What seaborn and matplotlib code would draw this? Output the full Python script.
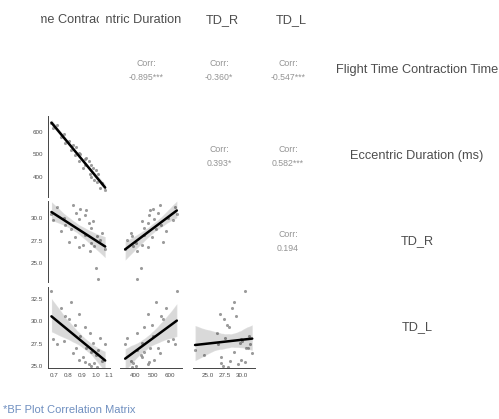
import matplotlib
matplotlib.use("Agg")
import matplotlib.pyplot as plt
import numpy as np
import pandas as pd
import seaborn as sns

# ---- data -------------------------------------------------------------
ftct = [0.68, 0.69, 0.72, 0.75, 0.77, 0.78, 0.81, 0.82, 0.84, 0.85,
        0.86, 0.88, 0.88, 0.89, 0.91, 0.92, 0.92, 0.93, 0.95, 0.96,
        0.97, 0.97, 0.98, 0.99, 1.00, 1.01, 1.02, 1.03, 1.05, 1.07]
ecc_duration = [640, 615, 628, 575, 590, 548, 560, 520, 540, 495,
                530, 470, 505, 500, 440, 478, 452, 485, 470, 410,
                452, 400, 438, 385, 430, 378, 410, 350, 372, 340]
td_r = [30.5, 29.8, 31.2, 28.6, 30.0, 29.2, 27.4, 28.8, 31.5, 27.9,
        30.6, 26.8, 29.9, 31.0, 27.0, 30.4, 28.1, 30.9, 29.5, 26.4,
        28.9, 27.2, 29.7, 26.9, 24.5, 28.0, 23.2, 27.6, 28.3, 26.6]
td_l = [33.4, 28.0, 27.5, 31.5, 27.8, 30.6, 30.2, 32.2, 26.4, 29.6,
        27.0, 30.8, 25.6, 28.3, 26.0, 25.4, 29.4, 27.0, 25.2, 28.7,
        26.5, 25.0, 27.6, 25.3, 26.2, 24.9, 26.8, 28.1, 25.5, 27.4]

var_names = ["Flight Time Contraction Time", "Eccentric Duration (ms)", "TD_R", "TD_L"]
corr_labels = {(0, 1): "-0.895***", (0, 2): "-0.360*", (0, 3): "-0.547***",
               (1, 2): "0.393*", (1, 3): "0.582***", (2, 3): "0.194"}
tick_values = [[0.7, 0.8, 0.9, 1.0, 1.1], [400, 500, 600],
               [25, 27.5, 30], [25, 27.5, 30, 32.5]]
caption = "*BF Plot Correlation Matrix"

df = pd.DataFrame({var_names[0]: ftct, var_names[1]: ecc_duration,
                   var_names[2]: td_r, var_names[3]: td_l})

# ---- style ------------------------------------------------------------
sns.set_style("white")
plt.rcParams["font.family"] = ["Liberation Sans", "DejaVu Sans"]

W, H = 499, 419
fig = plt.figure(figsize=(W / 100, H / 100), dpi=100)

col_left = [48, 120, 193, 262]
col_w = 62
row_top = [30, 116, 201, 287]
row_h = 81
limits = [(0.655, 1.105), (310, 670), (22.9, 31.9), (24.75, 33.85)]

txt_col = "#4d4d4d"
label_size = 9.2


def rect(c, r):
    return [col_left[c] / W, 1 - (row_top[r] + row_h) / H, col_w / W, row_h / H]


n = len(var_names)
for r in range(n):
    for c in range(n):
        if r == c:
            continue
        ax = fig.add_axes(rect(c, r))
        if r < c:
            ax.set_axis_off()
            ax.text(0.42, 0.5, "Corr:\n" + corr_labels[(r, c)], ha="center",
                    va="center", fontsize=6.3, color="#949494", linespacing=1.7,
                    transform=ax.transAxes)
            continue
        sns.regplot(data=df, x=var_names[c], y=var_names[r], ax=ax, ci=95,
                    seed=7, n_boot=500,
                    scatter_kws=dict(s=5, color="#8a8a8a", alpha=0.85,
                                     linewidths=0),
                    line_kws=dict(color="black", lw=1.8))
        ax.set_xlim(*limits[c])
        ax.set_ylim(*limits[r])
        ax.set_xlabel("")
        ax.set_ylabel("")
        for s in ax.spines.values():
            s.set_visible(False)
        ax.set_xticks(tick_values[c])
        ax.set_yticks(tick_values[r])
        ax.tick_params(labelsize=4.5, colors=txt_col, length=3,
                       direction="inout", width=0.6, pad=2)
        if c == 0:
            ax.spines["left"].set_visible(True)
            ax.spines["left"].set_color("#444444")
            ax.spines["left"].set_linewidth(0.7)
        else:
            ax.tick_params(axis="y", left=False, labelleft=False)
        if r == n - 1:
            ax.spines["bottom"].set_visible(True)
            ax.spines["bottom"].set_color("#444444")
            ax.spines["bottom"].set_linewidth(0.7)
        else:
            ax.tick_params(axis="x", bottom=False, labelbottom=False)

# column headers: each strip clips its own label
strip_x = [(41, 99), (106, 184), (195, 250), (264, 320)]
strip_center = [73, 144, 222, 291]
for c in range(n):
    x0, x1 = strip_x[c]
    hax = fig.add_axes([x0 / W, 1 - 29 / H, (x1 - x0) / W, 18 / H])
    hax.set_axis_off()
    hax.set_xlim(x0, x1)
    hax.set_ylim(0, 1)
    hax.text(strip_center[c], 0.5, var_names[c], ha="center", va="center",
             fontsize=label_size, color=txt_col, clip_on=True)

# row labels on the right
for r in range(n):
    yc = 1 - (row_top[r] + row_h / 2) / H
    fig.text(417 / W, yc, var_names[r], ha="center", va="center",
             fontsize=label_size, color=txt_col)

fig.text(3 / W, 1 - 410 / H, caption, ha="left", va="center", fontsize=8,
         color="#6f8fc0")

fig.savefig("out.png", dpi=100)
